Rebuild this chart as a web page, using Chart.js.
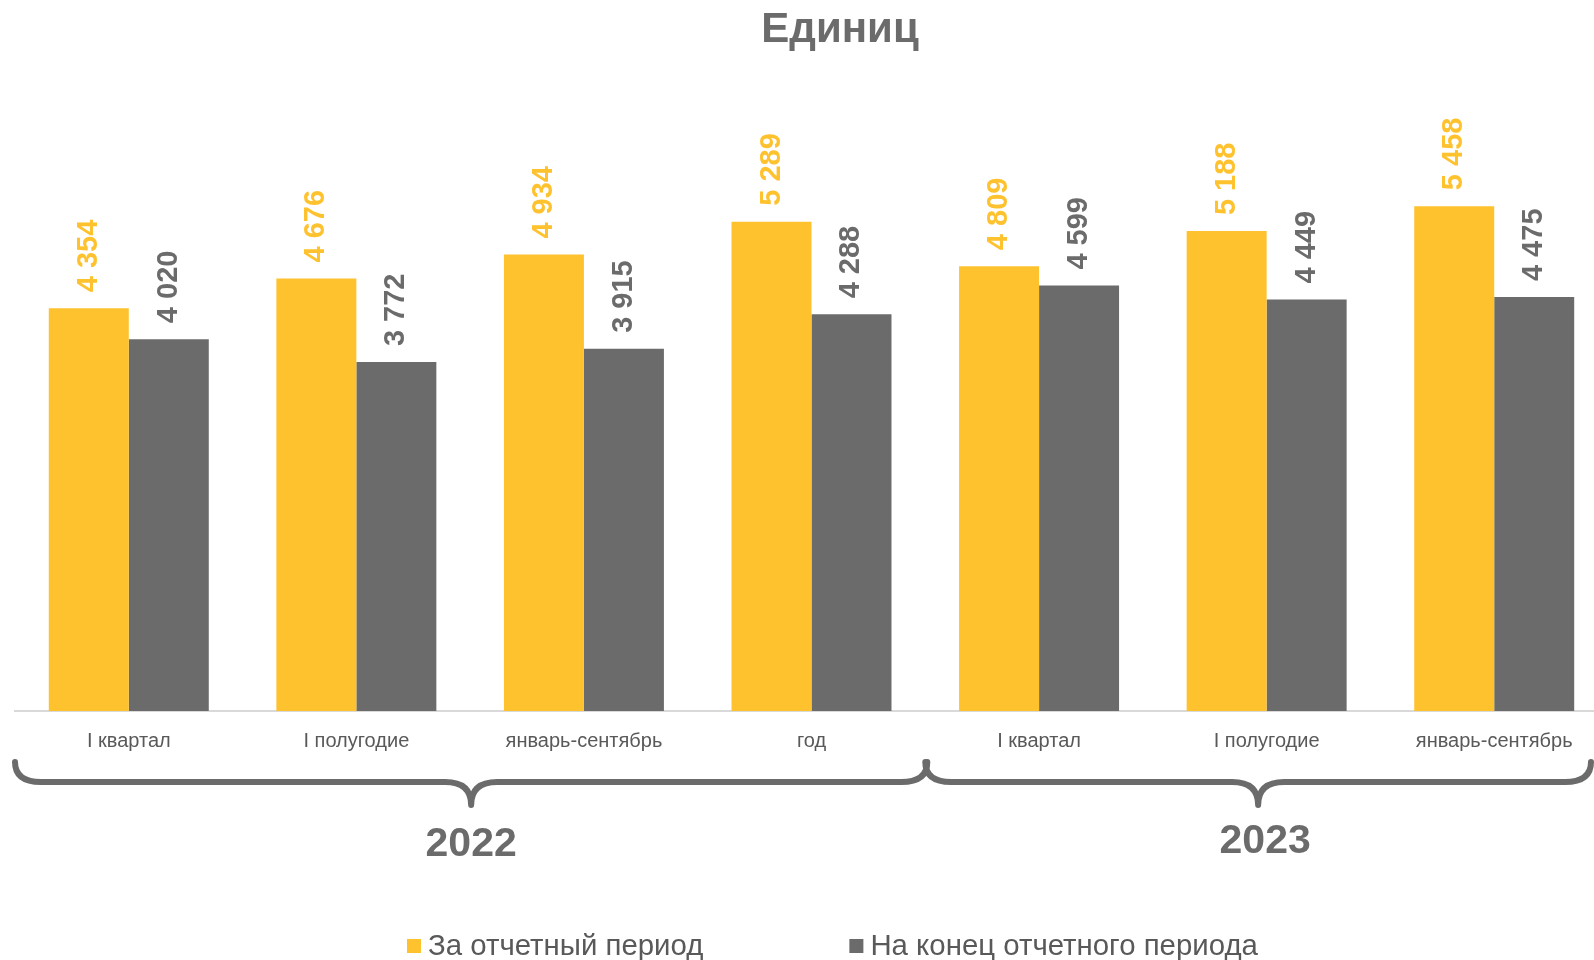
<!DOCTYPE html>
<html>
<head>
<meta charset="utf-8">
<script src="https://cdn.jsdelivr.net/npm/chart.js@4.4.1/dist/chart.umd.min.js"></script>
<style>
  html, body { margin: 0; background: #fff; overflow: hidden; }
</style>
</head>
<body>
<canvas id="chart" width="1608" height="960"></canvas>
<script>
const chartTitle = "Единиц";
const categories = ["I квартал", "I полугодие", "январь-сентябрь", "год", "I квартал", "I полугодие", "январь-сентябрь"];
const years = ["2022", "2023"];
const yearSpans = [4, 3];
const seriesNames = ["За отчетный период", "На конец отчетного периода"];
const periodValues = [4354, 4676, 4934, 5289, 4809, 5188, 5458];
const endValues = [4020, 3772, 3915, 4288, 4599, 4449, 4475];
const yMax = 6000;

const FONT = '"Liberation Sans", Arial, sans-serif';
const YELLOW = "#FFC22F";
const GREY = "#6B6B6B";
const TEXT = "#595959";
const VISIBLE_W = 1594; // the canvas runs past the window edge, like the source plot area

Chart.defaults.font.family = FONT;

function fmt(v) {
    return String(v).replace(/\B(?=(\d{3})+(?!\d))/g, " ");
}

// rotated value labels above each bar
const valueLabels = {
    id: "valueLabels",
    afterDatasetsDraw(chart) {
        const ctx = chart.ctx;
        chart.data.datasets.forEach((ds, di) => {
            chart.getDatasetMeta(di).data.forEach((bar, i) => {
                ctx.save();
                ctx.translate(bar.x, bar.y - 16);
                ctx.rotate(-Math.PI / 2);
                ctx.font = "bold 29px " + FONT;
                ctx.fillStyle = ds.backgroundColor;
                ctx.textAlign = "left";
                ctx.textBaseline = "middle";
                ctx.fillText(fmt(ds.data[i]), 0, 0);
                ctx.restore();
            });
        });
    }
};

function drawBrace(ctx, x1, x2, yTop, yMid, yTip, r) {
    const xm = (x1 + x2) / 2;
    ctx.beginPath();
    ctx.moveTo(x1, yTop);
    ctx.quadraticCurveTo(x1, yMid, x1 + r, yMid);
    ctx.lineTo(xm - r, yMid);
    ctx.quadraticCurveTo(xm, yMid, xm, yTip);
    ctx.quadraticCurveTo(xm, yMid, xm + r, yMid);
    ctx.lineTo(x2 - r, yMid);
    ctx.quadraticCurveTo(x2, yMid, x2, yTop);
    ctx.stroke();
    return xm;
}

// title, year braces and legend
const decorations = {
    id: "decorations",
    afterDraw(chart) {
        const ctx = chart.ctx;
        const xs = chart.scales.x;
        const half = (xs.getPixelForValue(1) - xs.getPixelForValue(0)) / 2;

        ctx.save();
        ctx.fillStyle = GREY;
        ctx.font = "bold 42px " + FONT;
        ctx.textAlign = "center";
        ctx.textBaseline = "alphabetic";
        ctx.fillText(chartTitle, 840, 42);

        ctx.strokeStyle = GREY;
        ctx.lineWidth = 6;
        ctx.lineCap = "round";
        ctx.lineJoin = "round";
        let start = 0;
        years.forEach((yr, k) => {
            const end = start + yearSpans[k] - 1;
            const x1 = xs.getPixelForValue(start) - half;
            const x2 = Math.min(xs.getPixelForValue(end) + half + 2, VISIBLE_W - 3);
            const xm = drawBrace(ctx, x1, x2, 762, 782, 805, 26);
            ctx.font = "bold 41px " + FONT;
            ctx.fillText(yr, xm + (k === 1 ? 7 : 0), k === 1 ? 853 : 856);
            start = end + 1;
        });

        // legend
        ctx.font = "29.4px " + FONT;
        ctx.textAlign = "left";
        let x = 407;
        chart.data.datasets.forEach((ds) => {
            ctx.fillStyle = ds.backgroundColor;
            ctx.fillRect(x, 939, 14, 14);
            ctx.fillStyle = TEXT;
            ctx.fillText(ds.label, x + 21, 955);
            x += 21 + ctx.measureText(ds.label).width + 146;
        });
        ctx.restore();
    }
};

new Chart(document.getElementById("chart"), {
    type: "bar",
    data: {
        labels: categories,
        datasets: [
            { label: seriesNames[0], data: periodValues, backgroundColor: YELLOW },
            { label: seriesNames[1], data: endValues, backgroundColor: GREY }
        ]
    },
    options: {
        responsive: false,
        animation: false,
        layout: { padding: { left: 15, right: 0, top: 156, bottom: 0 } },
        datasets: { bar: { categoryPercentage: 0.703, barPercentage: 1 } },
        plugins: {
            legend: { display: false },
            title: { display: false },
            tooltip: { enabled: false }
        },
        scales: {
            x: {
                grid: { display: false, drawTicks: false },
                border: { display: true, color: "#D9D9D9", width: 2 },
                ticks: { color: TEXT, font: { size: 20 }, padding: 18, maxRotation: 0, autoSkip: false },
                afterFit(scale) { scale.height = 960 - 711; }
            },
            y: { display: false, min: 0, max: yMax }
        }
    },
    plugins: [valueLabels, decorations]
});
</script>
</body>
</html>
